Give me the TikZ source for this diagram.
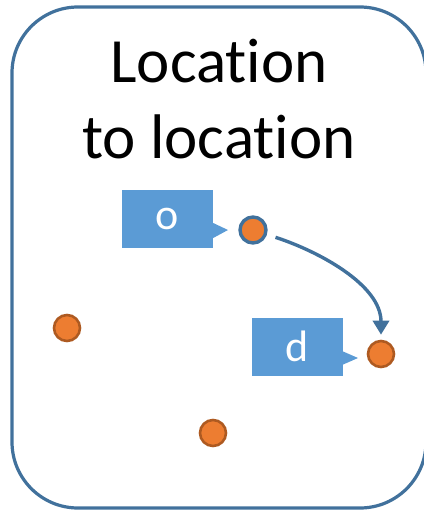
\documentclass[tikz,border=0pt]{standalone}
\usepackage{fontspec}
\setmainfont{Carlito}[Ligatures=NoCommon]
\usetikzlibrary{arrows.meta}
\definecolor{frameblue}{HTML}{41719C}
\definecolor{calloutblue}{HTML}{5B9BD5}
\definecolor{dotorange}{HTML}{ED7D31}
\definecolor{dotedge}{HTML}{AE5A21}
\begin{document}
\begin{tikzpicture}[x=1pt,y=1pt,
  frame/.style={draw=frameblue,line width=3.2pt,rounded corners=66pt},
  place/.style={circle,fill=dotorange,draw=dotedge,line width=2.6pt,minimum size=26pt,inner sep=0pt},
  chosen/.style={place,draw=frameblue,line width=3.4pt},
  callout/.style={rectangle,fill=calloutblue,text=white,minimum width=91pt,minimum height=58pt,inner sep=0pt,font=\fontsize{44}{44}\selectfont},
  tip/.style={fill=calloutblue},
  trip/.style={draw=frameblue,line width=3.4pt,-{Triangle[width=16pt,length=14pt]}}]
\useasboundingbox (0,0) rectangle (423,-511);
% outer frame
\draw[frame] (12,-7) rectangle (426,-508);
% title, two lines
\node[font=\fontsize{63}{76}\selectfont,anchor=base] (title1) at (219,-82) {Location};
\node[font=\fontsize{63}{76}\selectfont,anchor=base] (title2) at (219,-158) {to location};
% places
\node[place] (p1) at (67,-328) {};
\node[place] (p2) at (213,-433) {};
\node[chosen] (o) at (253,-230) {};
\node[place] (d) at (381,-354) {};
% callouts with pointers
\node[callout] (co) at (167.5,-219) {o};
\fill[tip] ([yshift=-4pt]co.east) -- (228,-230) -- ([yshift=-19pt]co.east) -- cycle;
\node[callout] (cd) at (297.5,-346.5) {d};
\fill[tip] ([yshift=-5pt]cd.east) -- (358,-358) -- ([yshift=-18pt]cd.east) -- cycle;
% trip from origin to destination
\draw[trip,shorten <=9pt,shorten >=5pt] (o) to[out=-18,in=90,looseness=0.9] (d);
\end{tikzpicture}
\end{document}
